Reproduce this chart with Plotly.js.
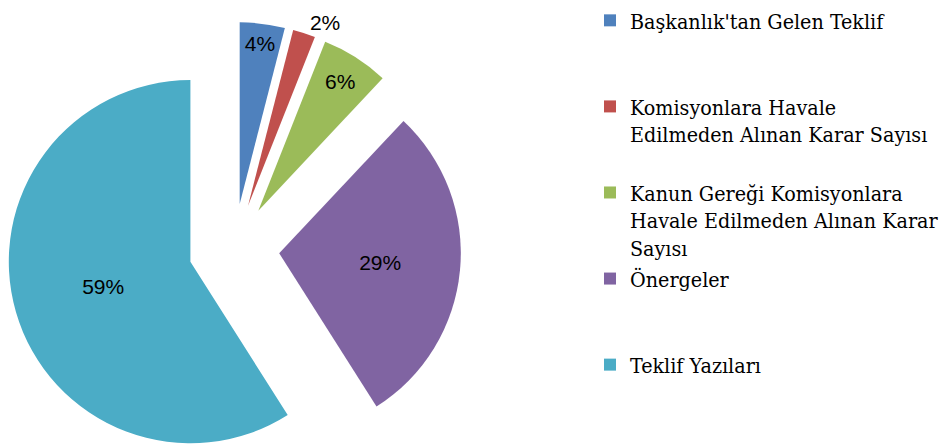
<!DOCTYPE html>
<html>
<head>
<meta charset="utf-8">
<script src="https://cdn.plot.ly/plotly-3.0.1.min.js"></script>
<style>
html, body { margin:0; padding:0; width:942px; height:447px; overflow:hidden; background:#fff; }
#chart { width:942px; height:498px; }
</style>
</head>
<body>
<div id="chart"></div>
<script>
var legendLabels = [
  "Başkanlık'tan Gelen Teklif<br> <br> ",
  "Komisyonlara Havale<br>Edilmeden Alınan Karar Sayısı<br> ",
  "Kanun Gereği Komisyonlara<br>Havale Edilmeden Alınan Karar<br>Sayısı",
  "Önergeler<br> <br> ",
  "Teklif Yazıları<br> <br> "
];
var values = [4, 2, 6, 29, 59];
var colors = ["#4F81BD", "#C0504D", "#9BBB59", "#8064A2", "#4BACC6"];
var textPositions = ["inside", "outside", "inside", "inside", "inside"];

var W = 942, H = 498;
var trace = {
  type: "pie",
  labels: legendLabels,
  values: values,
  sort: false,
  direction: "clockwise",
  rotation: 0,
  pull: 0.25,
  marker: { colors: colors, line: { width: 0 } },
  texttemplate: "%{value}%",
  textposition: textPositions,
  insidetextorientation: "horizontal",
  textfont: { family: "Liberation Sans", size: 21, color: "#000" },
  outsidetextfont: { family: "Liberation Sans", size: 21, color: "#000" },
  hoverinfo: "none",
  domain: { x: [7 / W, 461 / W], y: [0, 1] }
};

var layout = {
  width: W,
  height: H,
  margin: { l: 0, r: 0, t: 0, b: 0, autoexpand: false },
  paper_bgcolor: "#fff",
  showlegend: true,
  legend: {
    x: 590 / W, xanchor: "left",
    y: 1, yanchor: "top",
    valign: "top",
    font: { family: "DejaVu Serif Condensed, DejaVu Serif", size: 21.3, color: "#000" },
    bgcolor: "rgba(0,0,0,0)",
    traceorder: "normal"
  }
};

Plotly.newPlot("chart", [trace], layout, { displayModeBar: false, staticPlot: true });
</script>
</body>
</html>
